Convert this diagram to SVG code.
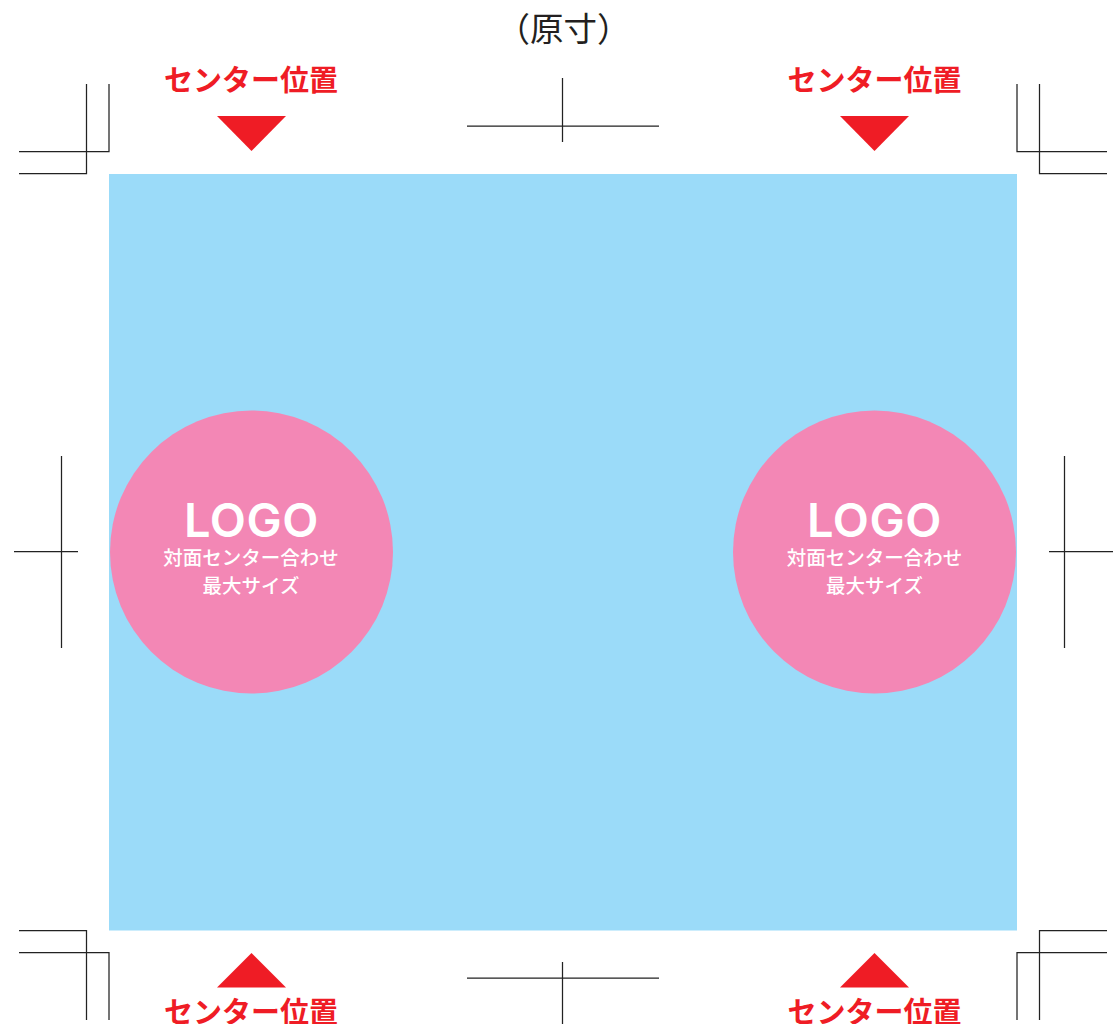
<svg xmlns="http://www.w3.org/2000/svg" width="1115" height="1024" viewBox="0 0 1115 1024">
<style>
.t{font-family:"Noto Sans CJK JP","Noto Sans",sans-serif}
.r{fill:#ef1c25;font-size:29px;font-weight:700;text-anchor:middle}
.w{fill:#fff;font-size:19.500px;font-weight:500;text-anchor:middle}
.l{fill:#fff;font-family:"Inter","Liberation Sans",sans-serif;font-size:47px;font-weight:600;letter-spacing:.6px;text-anchor:middle}
.c{fill:#f387b5}
.m{fill:none;stroke:#222;stroke-width:1.250}
.a{fill:#ef1c25}
</style>
<rect width="1115" height="1024" fill="#fff"/>
<rect x="109" y="174" width="908" height="756.500" fill="#9bdbf9"/>
<text class="t" x="563.500" y="41" font-size="33.500" fill="#231f20" text-anchor="middle">（原寸）</text>
<g id="trim-marks">
<path class="m" d="M86.500 84V173.500H19M109 84V151.500H19"/>
<path class="m" d="M1017 84V151.500H1107M1039.500 84V173.500H1107"/>
<path class="m" d="M19 930.500H86.500V1020M19 952.500H109V1020"/>
<path class="m" d="M1107 930.500H1039.500V1020M1107 952.500H1017V1020"/>
<path class="m" d="M467 126H659M562.500 78V142"/>
<path class="m" d="M467 978H659M562.500 962V1024"/>
<path class="m" d="M14 551.500H78M61.500 456V648"/>
<path class="m" d="M1049 551.500H1113M1064.500 456V648"/>
</g>
<g id="center-top-left"><text class="t r" x="251" y="90.500">センター位置</text><polygon class="a" points="217,116 286,116 251.500,151"/></g>
<g id="center-top-right"><text class="t r" x="874.500" y="90.500">センター位置</text><polygon class="a" points="840,116 909,116 874.500,151"/></g>
<g id="center-bottom-left"><polygon class="a" points="217,987.500 286,987.500 251.500,953"/><text class="t r" x="251" y="1022.500">センター位置</text></g>
<g id="center-bottom-right"><polygon class="a" points="840,987.500 909,987.500 874.500,953"/><text class="t r" x="874.500" y="1022.500">センター位置</text></g>
<g id="logo-left"><circle class="c" cx="251.500" cy="552" r="141.500"/><text class="l" x="251.500" y="537">LOGO</text><text class="t w" x="251" y="565">対面センター合わせ</text><text class="t w" x="251" y="593">最大サイズ</text></g>
<g id="logo-right"><circle class="c" cx="874.500" cy="552" r="141.500"/><text class="l" x="874.500" y="537">LOGO</text><text class="t w" x="874.500" y="565">対面センター合わせ</text><text class="t w" x="874.500" y="593">最大サイズ</text></g>
</svg>
